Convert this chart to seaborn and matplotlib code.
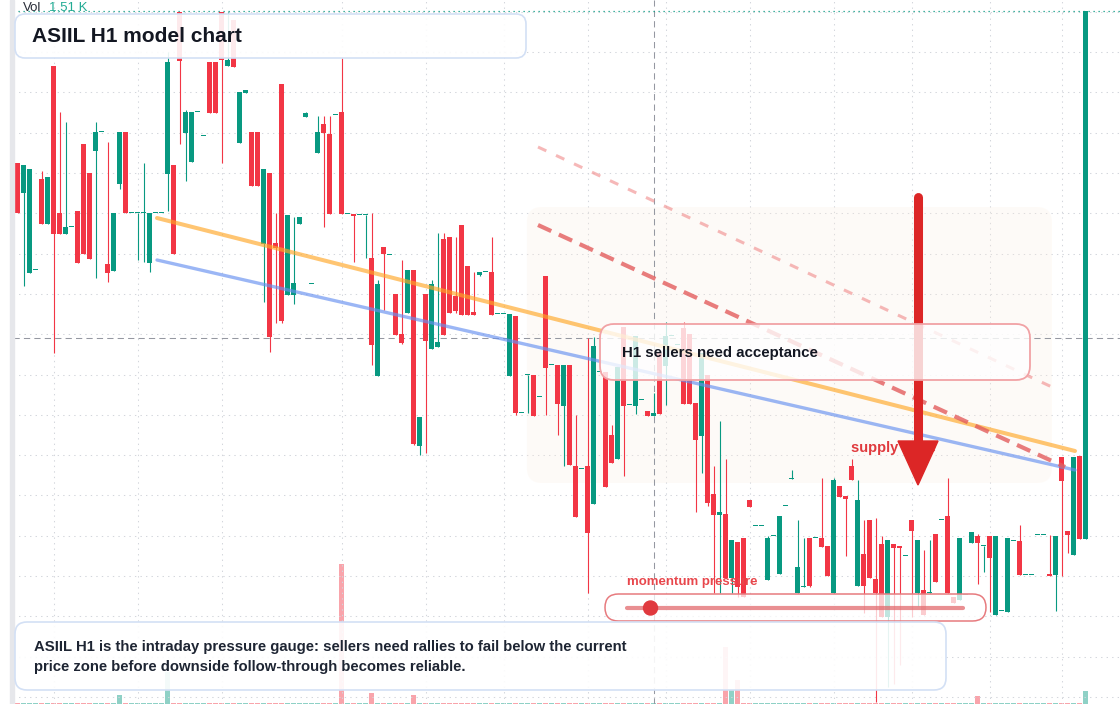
import numpy as np
import pandas as pd
import seaborn as sns
import matplotlib.pyplot as plt
from matplotlib.patches import FancyBboxPatch, Polygon, Circle, Rectangle

# ASIIL hourly bars (index points)
opens = [837, 807, 727, 730, 821, 776, 934, 787, 766, 773,
         789, 856, 827, 849, 868, 736, 729, 816, 868, 787,
         787, 787, 737, 787, 787, 826, 835, 988, 867, 838,
         888, 864, 938, 938, 988, 934, 980, 857, 907, 868,
         868, 756, 827, 757, 916, 705, 705, 776, 883, 716,
         847, 876, 866, 885, 888, 786, 786, 785, 785, 742,
         624, 753, 745, 706, 666, 687, 730, 554, 706, 651,
         653, 761, 763, 704, 775, 734, 688, 725, 728, 728,
         686, 686, 624, 684, 587, 625, 625, 603, 724, 635,
         635, 594, 635, 534, 531, 534, 496, 628, 628, 565,
         541, 673, 595, 594, 600, 589, 584, 647, 634, 664,
         655, 672, 666, 597, 564, 625, 506, 485, 486, 422,
         458, 462, 500, 474, 474, 420, 464, 426, 494, 521,
         407, 413, 462, 462, 462, 454, 407, 514, 504, 534,
         414, 446, 480, 421, 456, 383, 456, 454, 444, 480,
         407, 410, 407, 466, 480, 484, 403, 400, 405, 457,
         464, 454, 464, 385, 389, 388, 459, 459, 425, 425,
         465, 465, 426, 425, 543, 469, 445, 544, 461]
highs = [837, 835, 831, 730, 829, 823, 934, 888, 878, 773,
         789, 856, 827, 878, 868, 858, 787, 868, 868, 787,
         787, 837, 787, 787, 787, 948, 835, 988, 890, 888,
         888, 864, 938, 938, 988, 988, 980, 908, 910, 868,
         868, 831, 827, 787, 916, 785, 783, 783, 888, 716,
         884, 884, 884, 885, 942, 786, 786, 785, 785, 787,
         720, 753, 745, 706, 740, 730, 730, 583, 706, 720,
         767, 767, 763, 763, 775, 734, 728, 728, 728, 763,
         686, 686, 686, 684, 587, 625, 625, 603, 724, 635,
         635, 635, 635, 585, 531, 662, 663, 628, 628, 575,
         633, 673, 595, 664, 600, 589, 607, 647, 678, 664,
         655, 678, 666, 597, 647, 625, 534, 579, 541, 460,
         458, 462, 500, 474, 474, 464, 464, 484, 494, 530,
         480, 462, 462, 462, 522, 454, 522, 514, 504, 541,
         520, 480, 480, 482, 464, 460, 456, 454, 444, 480,
         460, 450, 460, 466, 480, 522, 403, 462, 405, 468,
         466, 454, 464, 464, 389, 462, 459, 475, 425, 425,
         465, 465, 465, 464, 543, 469, 543, 544, 989]
lows = [787, 714, 727, 730, 776, 776, 647, 766, 766, 773,
        737, 746, 741, 722, 868, 718, 729, 811, 787, 787,
        740, 738, 728, 787, 787, 789, 746, 856, 819, 838,
        888, 864, 887, 887, 837, 934, 933, 857, 907, 814,
        814, 698, 648, 677, 677, 705, 696, 776, 883, 716,
        847, 773, 786, 885, 786, 786, 738, 785, 742, 635,
        624, 690, 745, 665, 656, 687, 555, 545, 547, 651,
        653, 665, 687, 687, 685, 685, 685, 724, 728, 685,
        686, 686, 624, 585, 587, 587, 584, 603, 585, 635,
        565, 534, 535, 483, 531, 407, 496, 628, 513, 537,
        541, 524, 595, 586, 600, 584, 584, 586, 595, 664,
        655, 596, 596, 488, 527, 494, 407, 407, 422, 407,
        403, 403, 493, 474, 474, 420, 464, 426, 494, 521,
        407, 413, 413, 462, 453, 424, 407, 503, 444, 520,
        414, 387, 422, 298, 383, 313, 316, 335, 444, 383,
        394, 385, 407, 418, 480, 407, 397, 400, 405, 457,
        416, 428, 388, 385, 389, 388, 459, 425, 425, 425,
        465, 465, 424, 389, 424, 447, 445, 461, 461]
closes = [787, 835, 831, 730, 776, 823, 766, 766, 773, 773,
          737, 746, 741, 868, 868, 727, 787, 868, 787, 787,
          787, 787, 787, 787, 787, 938, 746, 939, 888, 888,
          888, 864, 887, 887, 940, 940, 933, 908, 910, 814,
          814, 831, 663, 752, 679, 785, 717, 783, 887, 716,
          868, 867, 786, 885, 786, 786, 784, 785, 785, 655,
          716, 746, 745, 665, 657, 730, 556, 583, 659, 716,
          658, 665, 687, 689, 685, 685, 685, 728, 728, 685,
          686, 686, 686, 587, 587, 625, 584, 603, 632, 635,
          596, 635, 535, 483, 531, 467, 654, 628, 513, 537,
          633, 594, 595, 664, 600, 584, 587, 586, 664, 664,
          655, 596, 596, 560, 647, 497, 485, 488, 422, 460,
          413, 403, 493, 474, 474, 462, 464, 484, 494, 521,
          433, 413, 414, 462, 453, 424, 520, 503, 501, 520,
          500, 414, 422, 407, 383, 460, 452, 452, 444, 469,
          460, 385, 407, 418, 480, 407, 397, 462, 405, 468,
          457, 454, 442, 464, 389, 462, 459, 425, 425, 425,
          465, 465, 424, 464, 519, 465, 543, 461, 989]
volume_k = [0.1, 0.1, 0.1, 0.1, 0.1, 0.1, 0.1, 0.1, 0.1, 0.1,
            0.1, 0.1, 0.1, 0.1, 0.1, 0.1, 0.1, 1.0, 0.1, 0.1,
            0.1, 0.1, 0.1, 0.1, 0.1, 3.7, 0.1, 0.1, 0.1, 0.1,
            0.1, 0.1, 0.1, 0.1, 0.1, 0.1, 0.1, 0.1, 0.1, 0.1,
            0.1, 0.1, 0.1, 0.1, 0.1, 0.1, 0.1, 0.1, 0.1, 0.1,
            0.1, 0.1, 0.1, 0.1, 16.3, 0.1, 0.1, 0.1, 0.1, 1.3,
            0.1, 0.1, 0.1, 0.1, 0.1, 0.1, 1.1, 0.1, 0.1, 0.1,
            0.1, 0.1, 0.1, 0.1, 0.1, 0.1, 0.1, 0.1, 0.1, 0.1,
            0.1, 0.1, 0.1, 0.1, 0.1, 0.1, 0.1, 0.1, 0.1, 0.1,
            0.1, 0.1, 0.1, 0.1, 0.1, 0.1, 0.1, 0.1, 0.1, 0.1,
            0.1, 0.1, 0.1, 0.1, 0.1, 0.1, 0.1, 0.1, 0.1, 0.1,
            0.1, 0.1, 0.1, 0.1, 0.1, 0.1, 0.1, 0.1, 6.6, 1.6,
            2.8, 0.1, 0.1, 0.1, 0.1, 0.1, 0.1, 0.1, 0.1, 0.1,
            0.1, 0.1, 0.1, 0.1, 0.1, 0.1, 0.1, 0.1, 0.1, 0.1,
            0.1, 0.1, 0.1, 0.1, 0.1, 0.1, 0.1, 0.1, 0.1, 0.1,
            0.1, 0.1, 0.1, 0.1, 0.1, 0.1, 0.1, 0.1, 0.1, 0.1,
            0.9, 0.1, 0.1, 0.1, 0.1, 0.1, 0.1, 0.1, 0.1, 0.1,
            0.1, 0.1, 0.1, 0.1, 0.1, 0.1, 0.1, 0.1, 1.51]

# session starts (bar index) and drawings
session_breaks = [6, 20, 34, 54, 68, 81, 95, 108, 122, 136, 149, 162, 174]
cross_bar, cross_price = 106, 662
orange_trend = ([23.25, 176.25], [782, 549])
blue_trend = ([23.25, 176.25], [740, 530])
supply_upper = ([86.75, 172.4], [853, 613])
supply_lower = ([86.75, 174.6], [775, 533])
supply_zone = (84.9, 172.4, 517, 793)
momentum_pressure = 0.07

GREEN = "#089981"
RED = "#f23645"

df = pd.DataFrame({"open": opens, "high": highs, "low": lows,
                   "close": closes, "vol": volume_k})
df["bar"] = np.arange(len(df))
df["up"] = df["close"] >= df["open"]
colors = np.where(df["up"], GREEN, RED)

sns.set_theme(style="white")
plt.rcParams["font.family"] = ["Liberation Sans", "DejaVu Sans"]

fig = plt.figure(figsize=(11.2, 7.04), dpi=100)
ax = fig.add_axes([13 / 1120, 0, 1107 / 1120, 1])
ax.set_xlim(-0.75, 183.75)
ax.set_ylim(296, 1000)
for s in ax.spines.values():
    s.set_visible(False)
ax.set_xticks(session_breaks)
ax.set_yticks(np.arange(988.1, 290, -40.3))
ax.tick_params(length=0, labelleft=False, labelbottom=False)
ax.grid(True, color="#d3d6dc", linestyle=(0, (1.3, 4)), linewidth=0.75)

# volume pane underneath
vax = ax.twinx()
vax.set_ylim(0, 82)
vax.set_zorder(ax.get_zorder() - 1)
ax.patch.set_visible(False)
vax.bar(df["bar"], df["vol"], width=0.8, color=colors, alpha=0.45, linewidth=0)
vax.axis("off")

# zone + crosshair + last price
ax.add_patch(FancyBboxPatch((supply_zone[0], supply_zone[2]),
                            supply_zone[1] - supply_zone[0], supply_zone[3] - supply_zone[2],
                            boxstyle="round,pad=0,rounding_size=2.5", mutation_aspect=6,
                            facecolor="#fbeee0", alpha=0.25, edgecolor="none", zorder=1))
ax.axvline(cross_bar, color="#9598a1", lw=0.75, ls=(0, (6, 4)), zorder=2)
ax.axhline(cross_price, color="#9598a1", lw=0.75, ls=(0, (6, 4)), zorder=2)
ax.axhline(df["close"].iloc[-1], color=GREEN, lw=0.9, ls=(0, (1, 3)), zorder=2)

# candles
ax.vlines(df["bar"], df["low"], df["high"], colors=colors, linewidth=0.8, zorder=3)
body_low = np.minimum(df["open"], df["close"])
body_h = np.maximum((df["close"] - df["open"]).abs(), 1.4)
ax.bar(df["bar"], body_h, bottom=body_low, width=0.8, color=colors, linewidth=0, zorder=3)

# trend lines
sns.lineplot(x=orange_trend[0], y=orange_trend[1], ax=ax, color="#ffa726",
             linewidth=2.9, alpha=0.65, zorder=4)
sns.lineplot(x=blue_trend[0], y=blue_trend[1], ax=ax, color="#6690f0",
             linewidth=2.4, alpha=0.65, zorder=4)
ax.plot(*supply_lower, color="#e35d5d", lw=3, alpha=0.8, dashes=(3.5, 2), zorder=4)
ax.plot(*supply_upper, color="#f08a8a", lw=2.2, alpha=0.6, dashes=(3, 3.5), zorder=4)

# overlay in pixel units
ov = fig.add_axes([0, 0, 1, 1], zorder=5)
ov.set_xlim(0, 1120)
ov.set_ylim(704, 0)
ov.axis("off")

ov.add_patch(Rectangle((10, 0), 3.5, 704, color="#e6e7eb", zorder=0))


def panel(x, y, w, h, r, edge, fill_alpha, lw=1.2):
    ov.add_patch(FancyBboxPatch((x, y), w, h, boxstyle=f"round,pad=0,rounding_size={r}",
                                facecolor=(1, 1, 1, fill_alpha), edgecolor=edge,
                                linewidth=lw, zorder=3))


ov.text(23, 8, "Vol", fontsize=9.5, color="#2a2e39", va="center")
ov.text(49, 8, f"{volume_k[-1]:.2f} K", fontsize=9.5, color="#22ab94", va="center")

panel(15, 14, 511, 44, 10, "#d3e0f5", 0.9)
ov.text(32, 36.5, "ASIIL H1 model chart", fontsize=15, fontweight="bold",
        color="#131722", va="center", zorder=4)

ov.text(851, 448, "supply zone", fontsize=10.5, fontweight="bold", color="#e03a3e",
        va="center", zorder=1)
ov.plot([918, 918], [197, 446], color="#dc2626", lw=6.5, solid_capstyle="round", zorder=2)
ov.add_patch(Polygon([[898, 441], [938, 441], [918, 485]], closed=True,
                     color="#dc2626", zorder=2))

panel(600, 324, 430, 56, 14, "#f1a2a5", 0.8, lw=1.3)
ov.text(622, 353, "H1 sellers need acceptance", fontsize=10.8, fontweight="bold",
        color="#131722", va="center", zorder=4)

ov.text(627, 582, "momentum pressure", fontsize=9.5, fontweight="bold",
        color="#e8474c", va="center", zorder=4)
panel(605, 594, 381, 27, 13.5, "#e77b7f", 0.75, lw=1.1)
ov.plot([627, 963], [608, 608], color="#e26a6e", lw=3, alpha=0.75, zorder=4)
ov.add_patch(Circle((627 + 336 * momentum_pressure, 608), 7, color="#e0393e", zorder=5))

panel(15, 622, 931, 68, 12, "#d3e0f5", 0.9)
ov.text(34, 647, "ASIIL H1 is the intraday pressure gauge: sellers need rallies to fail below the current",
        fontsize=10.75, fontweight="bold", color="#1e2533", va="center", zorder=4)
ov.text(34, 667, "price zone before downside follow-through becomes reliable.",
        fontsize=10.75, fontweight="bold", color="#1e2533", va="center", zorder=4)

fig.savefig("out.png", dpi=100)
